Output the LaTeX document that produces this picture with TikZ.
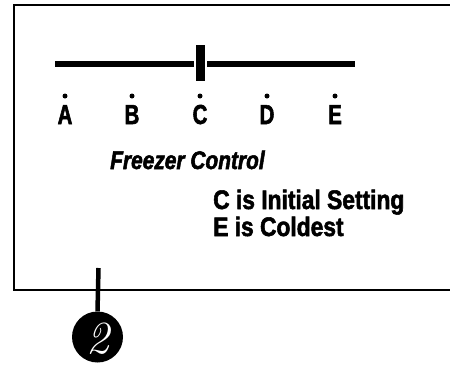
\documentclass[tikz,border=0pt]{standalone}
\usepackage{fontspec}
\newfontfamily\condtext{Liberation Sans Bold}[FakeStretch=0.85, FakeBold=2]
\newfontfamily\condtitle{Liberation Sans Bold Italic}[FakeStretch=0.82, FakeBold=2]
\newfontfamily\condletter{Liberation Sans Bold}[FakeStretch=0.74, FakeBold=2]
\tikzset{
  frame/.style={line width=2.2pt, line cap=rect},
  slider/.style={line width=6.5pt},
  knob/.style={fill=black, draw=white, line width=2pt},
  tickdot/.style={circle, fill=black, inner sep=0pt, minimum size=5pt},
  letter/.style={anchor=base, inner sep=0pt, font=\condletter\fontsize{27.5}{27.5}\selectfont},
  txt/.style={anchor=base west, inner sep=0pt, font=\condtext\fontsize{26.8}{26.8}\selectfont},
  ttl/.style={anchor=base west, inner sep=0pt, font=\condtitle\fontsize{25.5}{25.5}\selectfont},
  badge/.style={circle, fill=black, minimum size=51pt, inner sep=0pt},
  badgetext/.style={anchor=base, text=white, inner sep=0pt, font=\itshape\fontsize{46}{46}\selectfont},
}
\begin{document}
\begin{tikzpicture}[x=1pt, y=-1pt]
\useasboundingbox (0,0) rectangle (450,367);
% frame, open on the right
\coordinate (ftr) at (452,5);
\coordinate (ftl) at (14,5);
\coordinate (fbl) at (14,290);
\coordinate (fbr) at (452,290);
\draw[frame] (ftr) -- (ftl) -- (fbl) -- (fbr);
% slider
\coordinate (sl) at (55,64);
\coordinate (sr) at (355,64);
\draw[slider] (sl) -- (sr);
\path[knob] (195,44) rectangle (206,82);
% tick dots and letters
\foreach \n/\x/\t in {a/65/A, b/132/B, c/200/C, d/267/D, e/335/E}{
  \node[tickdot] (dot\n) at (\x,96) {};
  \node[letter] (lab\n) at (\x,124) {\t};
}
% texts
\node[ttl] (title) at (110,169) {Freezer Control};
\node[txt] (line1) at (213,209) {C is Initial Setting};
\node[txt] (line2) at (213,236) {E is Coldest};
% badge
\node[badge] (num) at (97.5,337) {};
\node[badgetext] (numtxt) at (97.5,353) {2};
\coordinate (ltop) at (98.5,268);
\draw[line width=4.5pt] (ltop) -- (num.north);
\end{tikzpicture}
\end{document}
